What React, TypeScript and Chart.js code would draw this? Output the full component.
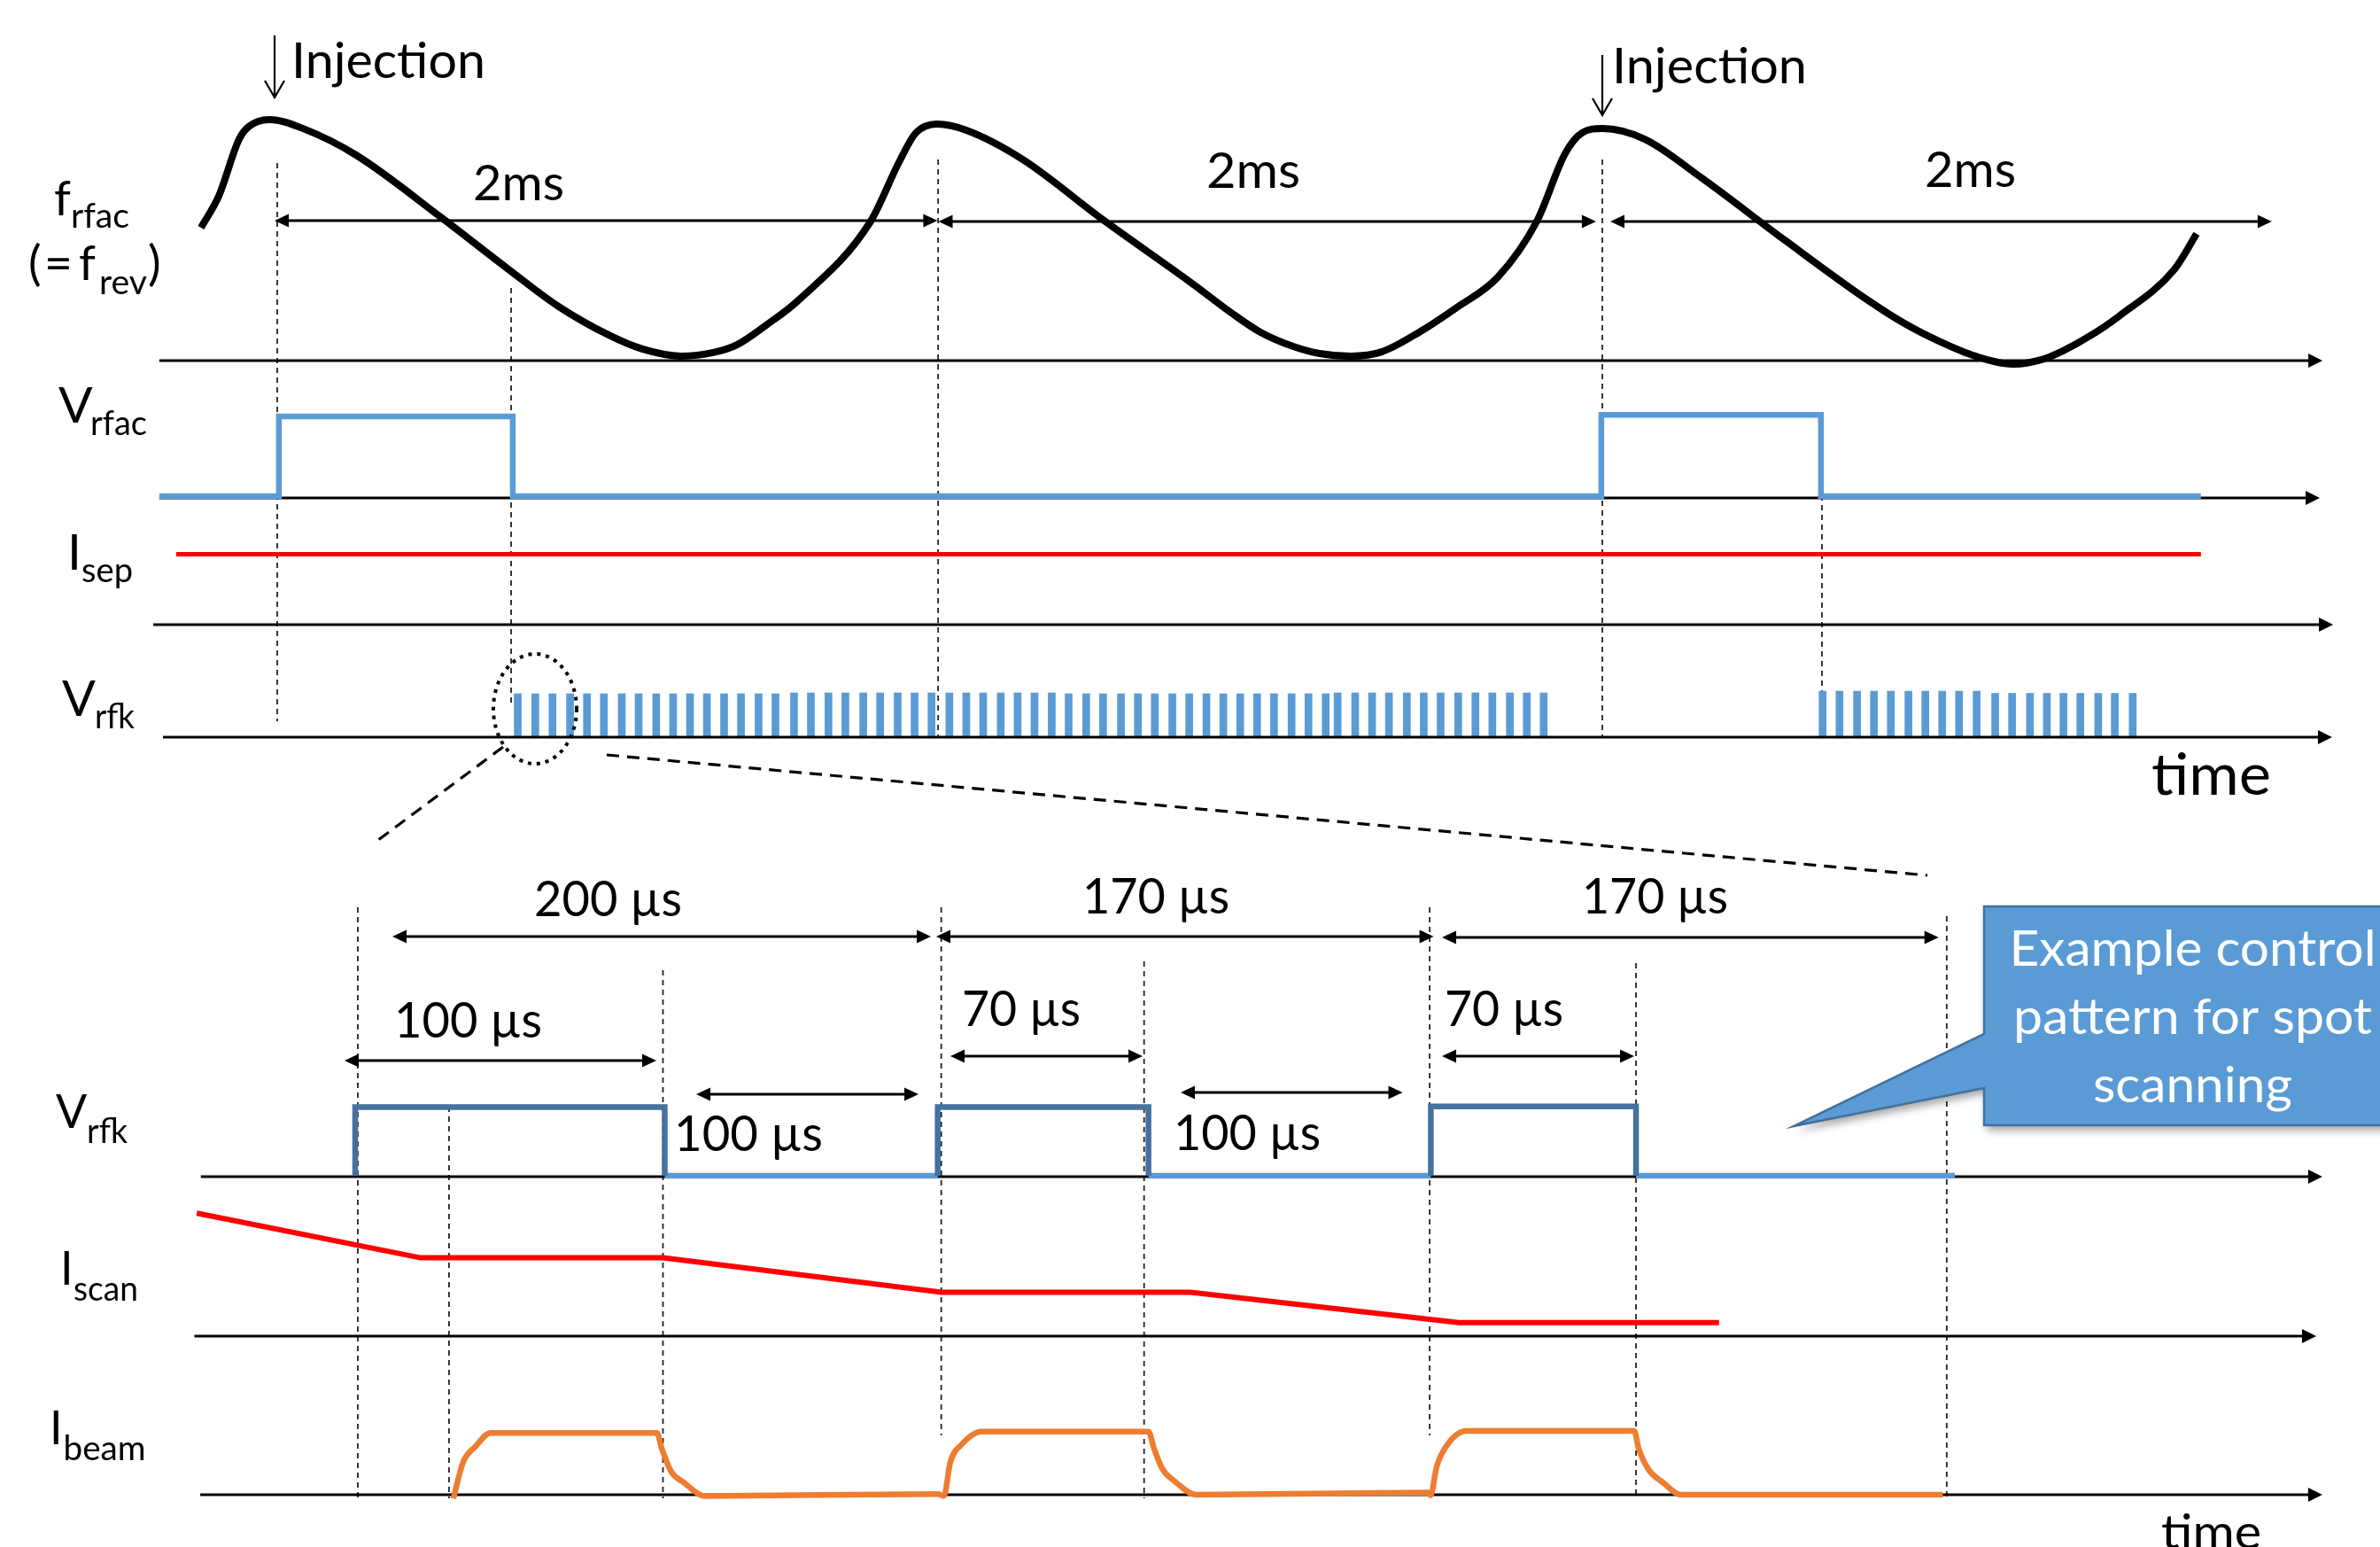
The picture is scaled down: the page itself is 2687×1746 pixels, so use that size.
import React, { useEffect, useRef } from 'react';
import { Chart, registerables } from 'chart.js';

Chart.register(...registerables);

// ---------------- canvas ----------------
const W = 2687;
const H = 1746;
const FONT = 'Lato, "Open Sans", "DejaVu Sans", sans-serif';

const BLUE = '#5b9bd5';
const DARK_BLUE = '#44729e';
const RED = '#ff0000';
const ORANGE = '#ed7d31';
const BLACK = '#000000';

// ---------------- data: top panel (time in ms, t=0 at first injection) ----------------
const FRFAC_T = [-0.230, -0.176, -0.115, -0.086, -0.024, 0.083, 0.238, 0.497, 0.698, 0.850, 1.005, 1.102, 1.219, 1.316, 1.388, 1.476, 1.570, 1.791, 1.877, 1.928, 1.992, 2.080, 2.251, 2.489, 2.762, 2.880, 2.968, 3.067, 3.147, 3.241, 3.334, 3.447, 3.561, 3.684, 3.802, 3.888, 3.939, 4.000, 4.128, 4.297, 4.551, 4.802, 4.912, 5.021, 5.126, 5.241, 5.326, 5.390, 5.473, 5.559, 5.727, 5.794];
const FRFAC_V = [0.562, 0.697, 0.936, 0.989, 1.019, 0.978, 0.869, 0.603, 0.386, 0.228, 0.105, 0.049, 0.019, 0.034, 0.067, 0.150, 0.251, 0.588, 0.839, 0.963, 1.000, 0.974, 0.850, 0.599, 0.326, 0.202, 0.120, 0.060, 0.030, 0.019, 0.037, 0.120, 0.225, 0.352, 0.588, 0.876, 0.963, 0.981, 0.936, 0.775, 0.509, 0.255, 0.157, 0.079, 0.019, -0.015, 0.004, 0.041, 0.105, 0.187, 0.386, 0.536];

const VRFAC_T = [-0.356, 0.005, 0.005, 0.711, 0.711, 3.997, 3.997, 4.660, 4.660, 5.807];
const VRFAC_V = [0, 0, 1, 1, 0, 0, 1.02, 1.02, 0, 0];

const ISEP_T = [-0.305, 5.807];
const ISEP_V = [1, 1];

const VRFK_PULSE_T = [
  0.726, 0.779, 0.831, 0.884, 0.935, 0.986, 1.040, 1.091, 1.144, 1.195, 1.246, 1.297, 1.349, 1.400, 1.453, 1.504,
  1.560, 1.611, 1.664, 1.715, 1.769, 1.820, 1.873, 1.924, 1.975, 2.029, 2.080, 2.131, 2.184, 2.235, 2.286, 2.338,
  2.389, 2.442, 2.493, 2.547, 2.598, 2.649, 2.702, 2.753, 2.805, 2.856, 2.907, 2.958, 3.009, 3.062, 3.113, 3.165,
  3.201, 3.254, 3.305, 3.356, 3.410, 3.461, 3.512, 3.565, 3.617, 3.668, 3.721, 3.772, 3.823,
  4.665, 4.716, 4.769, 4.820, 4.871, 4.924, 4.975, 5.026, 5.077, 5.130,
  5.186, 5.237, 5.291, 5.342, 5.392, 5.443, 5.497, 5.547, 5.601,
];
const VRFK_PULSE_V = [
  1.0, 1.0, 1.0, 1.0, 1.0, 1.0, 1.0, 1.0, 1.0, 1.0, 1.0, 1.0, 1.0, 1.0, 1.0, 1.0,
  1.02, 1.02, 1.02, 1.02, 1.02, 1.02, 1.02, 1.02, 1.02, 1.02, 1.02, 1.02, 1.02, 1.02, 1.02, 1.02,
  1.0, 1.0, 1.0, 1.0, 1.0, 1.0, 1.0, 1.0, 1.0, 1.0, 1.0, 1.0, 1.0, 1.0, 1.0, 1.0,
  1.02, 1.02, 1.02, 1.02, 1.02, 1.02, 1.02, 1.02, 1.02, 1.02, 1.02, 1.02, 1.02,
  1.06, 1.06, 1.06, 1.06, 1.06, 1.06, 1.06, 1.06, 1.06, 1.06,
  1.01, 1.01, 1.01, 1.01, 1.01, 1.01, 1.01, 1.01, 1.01,
];

// ---------------- data: bottom panel (time in µs) ----------------
const VRFK_ON_START = [0, 199.3, 368.0];
const VRFK_ON_END = [105.9, 271.4, 438.2];
const VRFK_ON_LEVEL = [1, 1, 1.01];
const VRFK_OFF_END = 547.3;

const ISCAN_T = [-54.2, 22.4, 105.3, 200.6, 285.8, 377.6, 466.6];
const ISCAN_V = [3.47, 2.21, 2.21, 1.24, 1.24, 0.38, 0.38];

const IBEAM_T = [33.6, 36.9, 41.1, 46.4, 103.2, 104.9, 108.1, 112.3, 119.7, 199.4,
  201.4, 203.6, 207.6, 214.2, 271.4, 273.3, 276.2, 280.0, 287.8, 367.0,
  367.9, 370.0, 373.8, 380.2, 437.6, 439.1, 442.4, 447.3, 453.6, 543.2];
const IBEAM_V = [-0.06, 0.52, 0.77, 0.99, 0.99, 0.74, 0.37, 0.20, -0.02, 0.01,
  -0.02, 0.52, 0.81, 1.01, 1.01, 0.74, 0.41, 0.23, 0.0, 0.035,
  -0.01, 0.45, 0.81, 1.02, 1.02, 0.74, 0.41, 0.20, 0.0, 0.0];

// ---------------- labels ----------------
const INJECTION_LABEL = 'Injection';
const PERIOD_LABELS = ['2ms', '2ms', '2ms'];
const DURATION_LABELS = ['200 µs', '170 µs', '170 µs', '100 µs', '70 µs', '70 µs', '100 µs', '100 µs'];
const CALLOUT_LINES = ['Example control', 'pattern for spot', 'scanning'];
const TIME_LABEL = 'time';

// ---------------- layout (pixels) ----------------
const TOP_X0 = 313;      // pixel of t = 0 ms
const TOP_PX_MS = 374;   // px per ms
const BOT_X0 = 401;      // pixel of t = 0 µs
const BOT_PX_US = 3.3;   // px per µs

const TRACKS: Record<string, { base: number; unit: number }> = {
  yFr: { base: 407, unit: 267 },
  yVrfac: { base: 560, unit: 90 },
  yIsep: { base: 705, unit: 79.5 },
  yVrfkT: { base: 832, unit: 49 },
  yVrfkB: { base: 1327, unit: 77.5 },
  yIscan: { base: 1508, unit: 40 },
  yIbeam: { base: 1687, unit: 70.5 },
};

const TOP_AXES = [
  { a: -0.356, b: 6.174, y: 407 },
  { a: -0.356, b: 6.166, y: 562 },
  { a: -0.374, b: 6.206, y: 705 },
];
const TOP_VRFK_AXIS = { a: -0.345, b: 6.203, y: 832 };
const BOT_AXES = [
  { a: -52.8, b: 673.0, y: 1328 },
  { a: -55.0, b: 670.9, y: 1508 },
  { a: -53.0, b: 673.0, y: 1687 },
];

const TOP_GUIDES = [
  { t: 0, y1: 184, y2: 814 },
  { t: 0.706, y1: 325, y2: 797 },
  { t: 1.995, y1: 180, y2: 833 },
  { t: 4.0, y1: 180, y2: 833 },
  { t: 4.663, y1: 471, y2: 833 },
];
const BOT_GUIDES = [
  { t: 0.9, y1: 1024, y2: 1691 },
  { t: 32.1, y1: 1249, y2: 1691 },
  { t: 105.3, y1: 1095, y2: 1691 },
  { t: 200.5, y1: 1024, y2: 1620 },
  { t: 269.9, y1: 1085, y2: 1691 },
  { t: 367.6, y1: 1024, y2: 1620 },
  { t: 438.2, y1: 1087, y2: 1691 },
  { t: 544.5, y1: 1034, y2: 1691 },
];

const TOP_DIMS = [
  { a: -0.008, b: 1.993, y: 249 },
  { a: 1.996, b: 3.981, y: 250 },
  { a: 4.024, b: 6.021, y: 250 },
];
const BOT_DIMS = [
  { a: 12.73, b: 196.97, y: 1057 },
  { a: 198.79, b: 368.97, y: 1057 },
  { a: 371.82, b: 541.73, y: 1058 },
  { a: -3.64, b: 103.03, y: 1197 },
  { a: 203.64, b: 269.39, y: 1192 },
  { a: 371.82, b: 437.58, y: 1192 },
  { a: 116.67, b: 192.73, y: 1235 },
  { a: 282.42, b: 358.33, y: 1233 },
];

const INJECTION_ARROWS = [
  { t: -0.008, y1: 40, y2: 110, tx: 329, ty: 88, w: 219 },
  { t: 4.0, y1: 62, y2: 130, tx: 1820, ty: 94, w: 220 },
];
const PERIOD_POS = [
  { x: 534, y: 226, w: 103 },
  { x: 1362, y: 212, w: 106 },
  { x: 2173, y: 211, w: 103 },
];
const DURATION_POS = [
  { x: 603, y: 1034, w: 167 },
  { x: 1222, y: 1031, w: 166 },
  { x: 1786, y: 1031, w: 165 },
  { x: 445, y: 1171, w: 167 },
  { x: 1086, y: 1158, w: 134 },
  { x: 1631, y: 1158, w: 134 },
  { x: 761, y: 1299, w: 168 },
  { x: 1325, y: 1298, w: 166 },
];

const mk = (t: number[], v: number[]) => t.map((x, i) => ({ x, y: v[i] }));

function scaleFor(id: string) {
  const { base, unit } = TRACKS[id];
  return {
    type: 'linear' as const,
    axis: 'y' as const,
    display: false,
    min: (base - H) / unit,
    max: base / unit,
    bounds: 'data' as const,
    beginAtZero: false,
    grace: 0,
  };
}

function drawText(ctx: CanvasRenderingContext2D, s: string, x: number, y: number, size: number, opts: { w?: number; color?: string; center?: boolean } = {}) {
  ctx.save();
  ctx.font = `${size}px ${FONT}`;
  ctx.fillStyle = opts.color || BLACK;
  ctx.textAlign = 'left';
  ctx.textBaseline = 'alphabetic';
  const m = ctx.measureText(s).width;
  const sx = opts.w ? opts.w / m : 1;
  ctx.translate(x, y);
  ctx.scale(sx, 1);
  ctx.fillText(s, opts.center ? -m / 2 : 0, 0);
  ctx.restore();
}

function vline(ctx: CanvasRenderingContext2D, x: number, y1: number, y2: number) {
  ctx.save();
  ctx.strokeStyle = '#222';
  ctx.lineWidth = 1.8;
  ctx.setLineDash([6, 5]);
  ctx.beginPath();
  ctx.moveTo(x, y1);
  ctx.lineTo(x, y2);
  ctx.stroke();
  ctx.restore();
}

function head(ctx: CanvasRenderingContext2D, xTip: number, y: number, dir: number, len: number, half: number) {
  ctx.beginPath();
  ctx.moveTo(xTip, y);
  ctx.lineTo(xTip - dir * len, y - half);
  ctx.lineTo(xTip - dir * len, y + half);
  ctx.closePath();
  ctx.fill();
}

function axisArrow(ctx: CanvasRenderingContext2D, x1: number, x2: number, y: number) {
  ctx.save();
  ctx.strokeStyle = BLACK;
  ctx.fillStyle = BLACK;
  ctx.lineWidth = 3;
  ctx.beginPath();
  ctx.moveTo(x1, y);
  ctx.lineTo(x2 - 12, y);
  ctx.stroke();
  head(ctx, x2, y, 1, 16, 8);
  ctx.restore();
}

function dimArrow(ctx: CanvasRenderingContext2D, x1: number, x2: number, y: number) {
  ctx.save();
  ctx.strokeStyle = BLACK;
  ctx.fillStyle = BLACK;
  ctx.lineWidth = 2.8;
  ctx.beginPath();
  ctx.moveTo(x1 + 10, y);
  ctx.lineTo(x2 - 10, y);
  ctx.stroke();
  head(ctx, x1, y, -1, 16, 7.5);
  head(ctx, x2, y, 1, 16, 7.5);
  ctx.restore();
}

function trackLabel(ctx: CanvasRenderingContext2D, main: string, mx: number, my: number, ms: number, sub: string, sx: number, sy: number, sw: number) {
  drawText(ctx, main, mx, my, ms);
  drawText(ctx, sub, sx, sy, 38, { w: sw });
}

const annotations = {
  id: 'annotations',
  beforeDatasetsDraw(chart: any) {
    const ctx: CanvasRenderingContext2D = chart.ctx;
    const xT = (t: number) => chart.scales.xTop.getPixelForValue(t);
    const xB = (t: number) => chart.scales.xBot.getPixelForValue(t);
    TOP_GUIDES.forEach((g) => vline(ctx, xT(g.t), g.y1, g.y2));
    BOT_GUIDES.forEach((g) => vline(ctx, xB(g.t), g.y1, g.y2));
    TOP_AXES.forEach((a) => axisArrow(ctx, xT(a.a), xT(a.b), a.y));
    BOT_AXES.forEach((a) => axisArrow(ctx, xB(a.a), xB(a.b), a.y));
  },
  afterDatasetsDraw(chart: any) {
    const ctx: CanvasRenderingContext2D = chart.ctx;
    const xT = (t: number) => chart.scales.xTop.getPixelForValue(t);
    const xB = (t: number) => chart.scales.xBot.getPixelForValue(t);

    axisArrow(ctx, xT(TOP_VRFK_AXIS.a), xT(TOP_VRFK_AXIS.b), TOP_VRFK_AXIS.y);

    INJECTION_ARROWS.forEach((ia) => {
      const x = xT(ia.t);
      ctx.save();
      ctx.strokeStyle = BLACK;
      ctx.lineWidth = 2.2;
      ctx.beginPath();
      ctx.moveTo(x, ia.y1);
      ctx.lineTo(x, ia.y2);
      ctx.moveTo(x - 11, ia.y2 - 19);
      ctx.lineTo(x, ia.y2);
      ctx.lineTo(x + 11, ia.y2 - 19);
      ctx.stroke();
      ctx.restore();
      drawText(ctx, INJECTION_LABEL, ia.tx, ia.ty, 57, { w: ia.w });
    });

    TOP_DIMS.forEach((d) => dimArrow(ctx, xT(d.a), xT(d.b), d.y));
    BOT_DIMS.forEach((d) => dimArrow(ctx, xB(d.a), xB(d.b), d.y));
    PERIOD_LABELS.forEach((s, i) => drawText(ctx, s, PERIOD_POS[i].x, PERIOD_POS[i].y, 56, { w: PERIOD_POS[i].w }));
    DURATION_LABELS.forEach((s, i) => drawText(ctx, s, DURATION_POS[i].x, DURATION_POS[i].y, 56, { w: DURATION_POS[i].w }));

    trackLabel(ctx, 'f', 61, 243, 54, 'rfac', 80, 257, 66);
    drawText(ctx, '(', 32, 316, 55);
    drawText(ctx, '=', 50, 316, 55);
    drawText(ctx, 'f', 89, 316, 54);
    drawText(ctx, 'rev', 112, 332, 38, { w: 54 });
    drawText(ctx, ')', 167, 316, 55);
    trackLabel(ctx, 'V', 66, 477, 57, 'rfac', 102, 491, 64);
    trackLabel(ctx, 'I', 76, 643, 57, 'sep', 92, 657, 58);
    trackLabel(ctx, 'V', 70, 808, 56, 'rfk', 107, 822, 45);
    trackLabel(ctx, 'V', 63, 1273, 52, 'rfk', 98, 1290, 46);
    trackLabel(ctx, 'I', 68, 1450, 52, 'scan', 83, 1468, 73);
    trackLabel(ctx, 'I', 56, 1630, 52, 'beam', 71.5, 1648, 93);

    drawText(ctx, TIME_LABEL, 2429, 897, 65, { w: 135 });
    drawText(ctx, TIME_LABEL, 2440, 1748, 55, { w: 113 });

    ctx.save();
    ctx.strokeStyle = BLACK;
    ctx.lineWidth = 4;
    ctx.setLineDash([4, 6]);
    ctx.beginPath();
    ctx.ellipse(604, 800, 47, 62, 0, 0, Math.PI * 2);
    ctx.stroke();
    ctx.lineWidth = 3.2;
    ctx.setLineDash([14, 9]);
    ctx.beginPath();
    ctx.moveTo(568, 843);
    ctx.lineTo(427, 948);
    ctx.moveTo(685, 852);
    ctx.lineTo(2176, 988);
    ctx.stroke();
    ctx.restore();

    ctx.save();
    ctx.beginPath();
    ctx.moveTo(2240, 1023);
    ctx.lineTo(2720, 1023);
    ctx.lineTo(2720, 1270);
    ctx.lineTo(2240, 1270);
    ctx.lineTo(2240, 1228);
    ctx.lineTo(2025, 1271);
    ctx.lineTo(2240, 1167);
    ctx.closePath();
    ctx.shadowColor = 'rgba(0,0,0,0.35)';
    ctx.shadowBlur = 10;
    ctx.shadowOffsetX = 3;
    ctx.shadowOffsetY = 6;
    ctx.fillStyle = BLUE;
    ctx.fill();
    ctx.shadowColor = 'transparent';
    ctx.strokeStyle = '#41719c';
    ctx.lineWidth = 2.5;
    ctx.stroke();
    ctx.restore();
    const cw = [414, 405, 225];
    const cy = [1090, 1167, 1244];
    CALLOUT_LINES.forEach((s, i) => drawText(ctx, s, 2475.5, cy[i], 57, { w: cw[i], color: '#ffffff', center: true }));
  },
};

function vrfkOutline() {
  const pts: { x: number; y: number | null }[] = [];
  VRFK_ON_START.forEach((s, i) => {
    const e = VRFK_ON_END[i];
    const h = VRFK_ON_LEVEL[i];
    pts.push({ x: s, y: 0 }, { x: s, y: h }, { x: e, y: h }, { x: e, y: 0 }, { x: e, y: null });
  });
  return pts;
}
function vrfkLow() {
  const pts: { x: number; y: number | null }[] = [];
  VRFK_ON_END.forEach((e, i) => {
    const next = i + 1 < VRFK_ON_START.length ? VRFK_ON_START[i + 1] : VRFK_OFF_END;
    pts.push({ x: e, y: 0 }, { x: next, y: 0 }, { x: next, y: null });
  });
  return pts;
}

export default function App() {
  const ref = useRef<HTMLCanvasElement>(null);
  useEffect(() => {
    document.body.style.margin = '0';
    const canvas = ref.current!;
    const lineBase = { type: 'line' as const, pointRadius: 0, fill: false, borderCapStyle: 'butt' as const, borderJoinStyle: 'miter' as const, tension: 0 };
    const chart = new Chart(canvas, {
      type: 'line',
      data: {
        datasets: [
          { ...lineBase, label: 'f_rfac', data: mk(FRFAC_T, FRFAC_V), xAxisID: 'xTop', yAxisID: 'yFr', borderColor: BLACK, borderWidth: 8, cubicInterpolationMode: 'monotone', borderJoinStyle: 'round' },
          { ...lineBase, label: 'V_rfac', data: mk(VRFAC_T, VRFAC_V), xAxisID: 'xTop', yAxisID: 'yVrfac', borderColor: BLUE, borderWidth: 6.5 },
          { ...lineBase, label: 'I_sep', data: mk(ISEP_T, ISEP_V), xAxisID: 'xTop', yAxisID: 'yIsep', borderColor: RED, borderWidth: 5 },
          { type: 'bar', label: 'V_rfk', data: mk(VRFK_PULSE_T, VRFK_PULSE_V), xAxisID: 'xTop', yAxisID: 'yVrfkT', backgroundColor: BLUE, borderWidth: 0, barThickness: 8, grouped: false } as any,
          { ...lineBase, label: 'V_rfk on', data: vrfkOutline(), xAxisID: 'xBot', yAxisID: 'yVrfkB', borderColor: DARK_BLUE, borderWidth: 6.5, spanGaps: false },
          { ...lineBase, label: 'V_rfk off', data: vrfkLow(), xAxisID: 'xBot', yAxisID: 'yVrfkB', borderColor: BLUE, borderWidth: 6.5, spanGaps: false },
          { ...lineBase, label: 'I_scan', data: mk(ISCAN_T, ISCAN_V), xAxisID: 'xBot', yAxisID: 'yIscan', borderColor: RED, borderWidth: 6 },
          { ...lineBase, label: 'I_beam', data: mk(IBEAM_T, IBEAM_V), xAxisID: 'xBot', yAxisID: 'yIbeam', borderColor: ORANGE, borderWidth: 6.5, cubicInterpolationMode: 'monotone', borderJoinStyle: 'round' },
        ] as any,
      },
      options: {
        responsive: false,
        maintainAspectRatio: false,
        devicePixelRatio: 1,
        animation: false,
        events: [],
        layout: { padding: 0 },
        plugins: { legend: { display: false }, tooltip: { enabled: false }, title: { display: false } },
        scales: {
          xTop: { type: 'linear', axis: 'x', display: false, offset: false, bounds: 'data', min: -TOP_X0 / TOP_PX_MS, max: (W - TOP_X0) / TOP_PX_MS },
          xBot: { type: 'linear', axis: 'x', display: false, offset: false, bounds: 'data', min: -BOT_X0 / BOT_PX_US, max: (W - BOT_X0) / BOT_PX_US },
          yFr: scaleFor('yFr'),
          yVrfac: scaleFor('yVrfac'),
          yIsep: scaleFor('yIsep'),
          yVrfkT: scaleFor('yVrfkT'),
          yVrfkB: scaleFor('yVrfkB'),
          yIscan: scaleFor('yIscan'),
          yIbeam: scaleFor('yIbeam'),
        } as any,
      },
      plugins: [annotations],
    });
    return () => chart.destroy();
  }, []);
  return (
    <div style={{ position: 'fixed', left: 0, top: 0, width: W, height: H, background: '#ffffff', overflow: 'hidden' }}>
      <canvas ref={ref} width={W} height={H} style={{ display: 'block', width: W, height: H }} />
    </div>
  );
}
